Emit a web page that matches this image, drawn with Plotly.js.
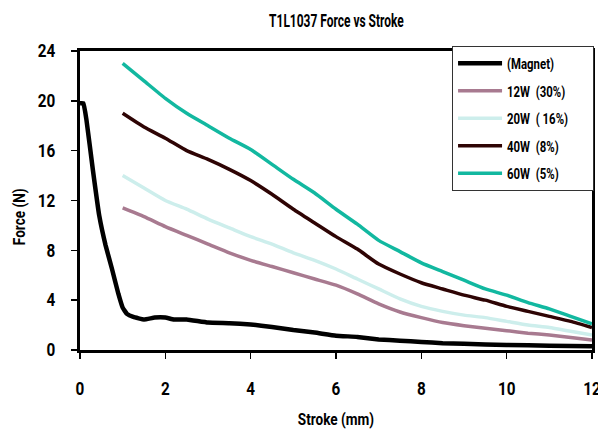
<!DOCTYPE html>
<html>
<head>
<meta charset="utf-8">
<script src="https://cdn.plot.ly/plotly-3.0.1.min.js"></script>
<style>
html,body{margin:0;padding:0;background:#fff;}
#chart{width:598px;height:431px;}
</style>
</head>
<body>
<div id="chart"></div>
<script>
const magnetX = [0, 0.08, 0.15, 0.3, 0.45, 0.6, 0.75, 0.9, 1.0, 1.1, 1.25, 1.5, 1.75, 2.0, 2.2, 2.5, 3, 3.5, 4, 4.5, 5, 5.5, 6, 6.5, 7, 7.5, 8, 8.5, 9, 10, 11, 12];
const magnetY = [19.8, 19.8, 18.5, 14.5, 10.8, 8.4, 6.5, 4.5, 3.4, 2.9, 2.65, 2.45, 2.6, 2.6, 2.45, 2.45, 2.2, 2.15, 2.05, 1.85, 1.6, 1.4, 1.15, 1.05, 0.85, 0.75, 0.65, 0.55, 0.5, 0.4, 0.35, 0.3];

const strokeX = [1, 1.5, 2, 2.5, 3, 3.5, 4, 4.5, 5, 5.5, 6, 6.5, 7, 7.5, 8, 8.5, 9, 9.5, 10, 10.5, 11, 11.5, 12];
const w12 = [11.4, 10.7, 9.9, 9.2, 8.5, 7.8, 7.2, 6.7, 6.2, 5.7, 5.2, 4.5, 3.7, 3.05, 2.6, 2.2, 1.95, 1.75, 1.55, 1.35, 1.2, 1.0, 0.8];
const w20 = [14.0, 13.0, 12.0, 11.3, 10.5, 9.8, 9.1, 8.5, 7.8, 7.2, 6.5, 5.7, 4.9, 4.1, 3.5, 3.1, 2.8, 2.6, 2.3, 2.0, 1.8, 1.5, 1.2];
const w40 = [19.0, 17.9, 17.0, 16.0, 15.3, 14.5, 13.6, 12.5, 11.3, 10.2, 9.1, 8.1, 6.9, 6.1, 5.4, 4.9, 4.4, 4.0, 3.5, 3.1, 2.7, 2.3, 1.8];
const w60 = [23.0, 21.6, 20.2, 19.0, 18.0, 17.0, 16.1, 14.9, 13.7, 12.6, 11.3, 10.1, 8.8, 7.9, 7.0, 6.3, 5.6, 4.9, 4.4, 3.8, 3.3, 2.7, 2.1];

const seriesNames = ['(Magnet)', '12W  (30%)', '20W  ( 16%)', '40W  (8%)', '60W  (5%)'];
const seriesColors = ['#000000', '#a87a90', '#cdeeec', '#2e0404', '#12b8a0'];
const xTicks = [0, 2, 4, 6, 8, 10, 12];
const yTicks = [0, 4, 8, 12, 16, 20, 24];
const titleText = 'T1L1037 Force vs Stroke';
const xTitleText = 'Stroke (mm)';
const yTitleText = 'Force (N)';

const FONT = 'Roboto, "Liberation Sans", sans-serif';
const ys = [magnetY, w12, w20, w40, w60];
const traces = ys.map((y, i) => ({
  x: i === 0 ? magnetX : strokeX,
  y: y,
  name: seriesNames[i],
  type: 'scatter',
  mode: 'lines',
  legendgroup: 'g' + i,
  line: {color: seriesColors[i], width: i === 0 ? 4.5 : 3.5, shape: 'spline', smoothing: i === 0 ? 0.3 : 0.5}
}));

const layout = {
  width: 598, height: 431,
  margin: {l: 80, r: 4, t: 51, b: 81},
  paper_bgcolor: '#fff', plot_bgcolor: '#fff',
  font: {family: FONT, color: '#000', size: 16},
  title: {text: titleText, font: {family: FONT, size: 19, weight: 'bold', color: '#000'}, x: 0.5625, xanchor: 'center', y: 0.953, yanchor: 'middle'},
  showlegend: true,
  legend: {
    x: 1.004, xanchor: 'right', y: 1.017, yanchor: 'top',
    bgcolor: '#fff', bordercolor: '#333', borderwidth: 1,
    font: {family: FONT, size: 15, weight: 'bold', color: '#000'},
    traceorder: 'grouped', tracegroupgap: 5, itemwidth: 44
  },
  xaxis: {
    range: [0, 12], tickvals: xTicks, ticktext: xTicks.map(String),
    showgrid: false, zeroline: false,
    showline: true, linecolor: '#000', linewidth: 3, mirror: true,
    ticks: 'outside', ticklen: 6, tickwidth: 1.5, tickcolor: '#000',
    tickfont: {family: FONT, size: 18, weight: 'bold', color: '#000'},
    ticklabelstandoff: 14, ticklabeloverflow: 'allow',
    title: {text: xTitleText, font: {family: FONT, size: 16, weight: 'bold', color: '#000'}, standoff: 17}
  },
  yaxis: {
    range: [0, 24], tickvals: yTicks, ticktext: yTicks.map(String),
    showgrid: false, zeroline: false,
    showline: true, linecolor: '#000', linewidth: 3, mirror: true,
    ticks: 'outside', ticklen: 6, tickwidth: 1.5, tickcolor: '#000',
    tickfont: {family: FONT, size: 18, weight: 'bold', color: '#000'},
    ticklabelstandoff: 12
  },
  annotations: [{
    text: yTitleText, xref: 'paper', yref: 'paper', x: -0.1167, y: 0.445,
    xanchor: 'center', yanchor: 'middle', textangle: -90, showarrow: false,
    font: {family: FONT, size: 16, weight: 'bold', color: '#000'}
  }]
};

function condense(sel, f) {
  document.querySelectorAll(sel).forEach(t => {
    const x = parseFloat(t.getAttribute('x') || 0);
    const y = parseFloat(t.getAttribute('y') || 0);
    const tr = t.getAttribute('transform') || '';
    t.setAttribute('transform', tr + ' translate(' + x + ',' + y + ') scale(' + f + ',1) translate(' + (-x) + ',' + (-y) + ')');
  });
}

Plotly.newPlot('chart', traces, layout, {displayModeBar: false, staticPlot: true}).then(() => {
  condense('#chart .gtitle', 0.63);
  condense('#chart .xtick text', 0.85);
  condense('#chart .ytick text', 0.85);
  condense('#chart .g-xtitle text', 0.85);
  condense('#chart .annotation-text-g text', 0.85);
  condense('#chart .legendtext', 0.76);
});
</script>
</body>
</html>
